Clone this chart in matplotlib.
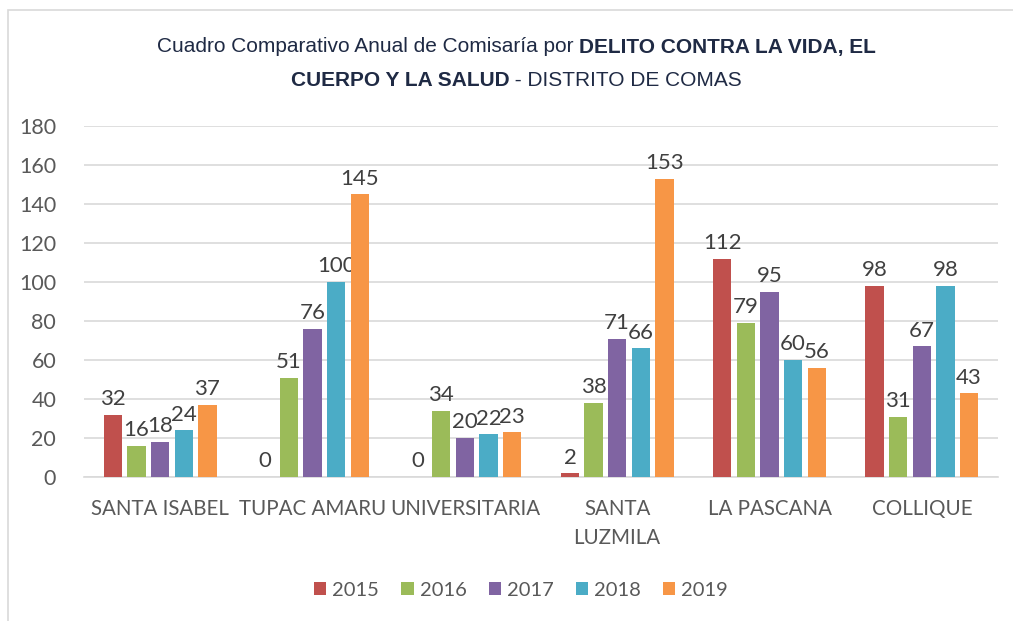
import matplotlib
matplotlib.use("Agg")
import matplotlib.pyplot as plt
from matplotlib.patches import Rectangle
import numpy as np

categories = ["SANTA ISABEL", "TUPAC AMARU", "UNIVERSITARIA", "SANTA\nLUZMILA", "LA PASCANA", "COLLIQUE"]
years = ["2015", "2016", "2017", "2018", "2019"]
v2015 = [32, 0, 0, 2, 112, 98]
v2016 = [16, 51, 34, 38, 79, 31]
v2017 = [18, 76, 20, 71, 95, 67]
v2018 = [24, 100, 22, 66, 60, 98]
v2019 = [37, 145, 23, 153, 56, 43]
series = [v2015, v2016, v2017, v2018, v2019]
colors = ["#C0504D", "#9BBB59", "#8064A2", "#4BACC6", "#F79646"]

fam = ["Lato", "DejaVu Sans"]
title_fam = ["Liberation Sans Narrow", "Liberation Sans", "DejaVu Sans"]

fig = plt.figure(figsize=(10.13, 6.21), dpi=100)
fig.patches.append(Rectangle((8/1013, -0.05), 1100/1013, 1.05 - 10/621,
                             transform=fig.transFigure, fill=False,
                             edgecolor="#D9D9D9", linewidth=1.2))
ax = fig.add_axes([84/1013, 1-477/621, (998-84)/1013, (477-126)/621])

x = np.arange(len(categories))
step = 0.155
width = 0.12
for i, (vals, c, yr) in enumerate(zip(series, colors, years)):
    pos = x + (i - 2) * step
    ax.bar(pos, vals, width=width, color=c, label=yr, zorder=3)
    for p, v in zip(pos, vals):
        ax.annotate(str(v), (p, v), xytext=(0, 4), textcoords="offset points",
                    ha="center", va="bottom", fontsize=16, color="#404040",
                    family=fam)

ax.set_xlim(-0.5, len(categories) - 0.5)
ax.set_ylim(0, 180)
ax.set_yticks(range(0, 181, 20))
ax.set_xticks(x)
ax.set_xticklabels(categories, fontsize=14.8, color="#595959", family=fam, linespacing=1.55)
ax.tick_params(axis="y", labelsize=15.5, labelcolor="#595959", length=0, pad=20)
ax.tick_params(axis="x", length=0, pad=16)
for lbl in ax.get_yticklabels():
    lbl.set_family(fam)
ax.grid(axis="y", color="#D9D9D9", linewidth=1.2, zorder=0)
for s in ["top", "right", "left"]:
    ax.spines[s].set_visible(False)
ax.spines["bottom"].set_color("#D9D9D9")
ax.spines["bottom"].set_linewidth(1.2)

# Title built from regular and bold pieces
tcol = "#1F2A44"
renderer = fig.canvas.get_renderer()

def title_line(pieces, ycen, size=15):
    texts = []
    for s, w in pieces:
        t = fig.text(0, 1 - ycen/621, s, ha="left", va="center", fontsize=size,
                     color=tcol, family=title_fam, fontweight=w)
        texts.append(t)
    widths = [t.get_window_extent(renderer).width for t in texts]
    total = sum(widths)
    xpix = 1013/2 - total/2 + 10
    for t, wd in zip(texts, widths):
        t.set_x(xpix/1013)
        xpix += wd

title_line([("Cuadro Comparativo Anual de Comisaría por ", "normal"),
            ("DELITO CONTRA LA VIDA, EL", "bold")], 47)
title_line([("CUERPO Y LA SALUD", "bold"), (" - DISTRITO DE COMAS", "normal")], 80)

leg = fig.legend(loc="center", bbox_to_anchor=(521/1013, 1-590/621), ncol=5,
                 frameon=False, prop={"family": fam, "size": 14.5},
                 handlelength=0.6, handleheight=0.6, handletextpad=0.3, columnspacing=1.1)
for t in leg.get_texts():
    t.set_color("#595959")

fig.savefig("out.png", dpi=100)
